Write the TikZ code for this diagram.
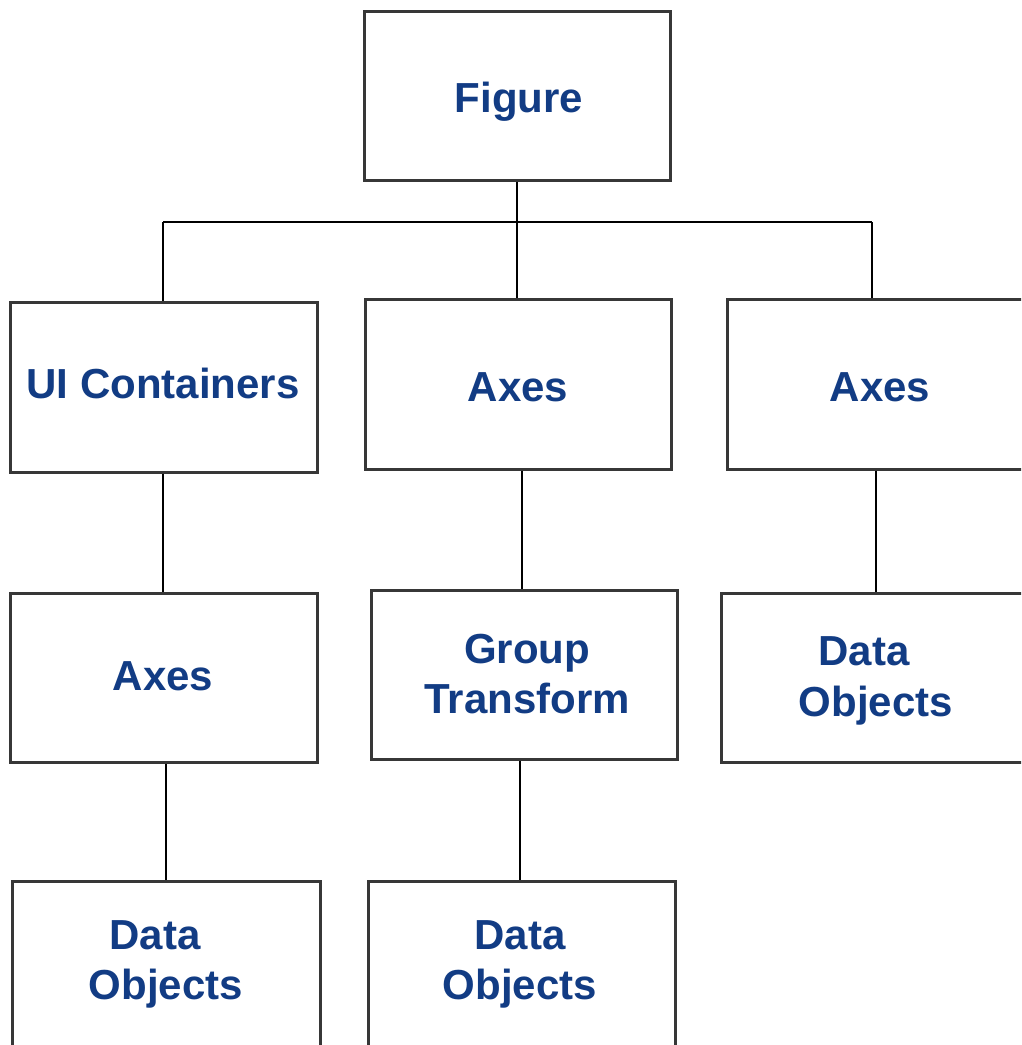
\documentclass[tikz,border=0pt]{standalone}
\usepackage{fontspec}
\setmainfont{Liberation Sans}
\definecolor{txtblue}{RGB}{18,60,132}
\definecolor{boxgray}{RGB}{55,55,55}
\begin{document}
\begin{tikzpicture}[x=1pt,y=-1pt,
  box/.style={draw=boxgray,line width=3pt,fill=white,rectangle,inner sep=0pt},
  lbl/.style={text=txtblue,font=\fontsize{42}{50}\selectfont\bfseries,anchor=base,inner sep=0pt},
  link/.style={draw=black,line width=2pt}]
\useasboundingbox (0,0) rectangle (1021,1045);
\begin{scope}
\clip (0,0) rectangle (1021,1045);
\coordinate (jl) at (163,222);
\coordinate (jm) at (517,222);
\coordinate (jr) at (872,222);
% boxes
\node[box,minimum width=306pt,minimum height=169pt] (fig) at (517,95.5) {};
\node[box,minimum width=307pt,minimum height=170pt] (ui) at (163.5,387) {};
\node[box,minimum width=306pt,minimum height=170pt] (axm) at (518,384) {};
\node[box,minimum width=306pt,minimum height=170pt] (axr) at (880,384) {};
\node[box,minimum width=307pt,minimum height=169pt] (axl) at (163.5,677.5) {};
\node[box,minimum width=306pt,minimum height=169pt] (grp) at (524,674.5) {};
\node[box,minimum width=310pt,minimum height=169pt] (dor) at (876,677.5) {};
\node[box,minimum width=308pt,minimum height=220pt] (dol) at (166,991) {};
\node[box,minimum width=307pt,minimum height=220pt] (dom) at (521.5,991) {};
% labels
\node[lbl] (figt) at (519,112) {Figure};
\node[lbl] (uit) at (163,398) {UI Containers};
\node[lbl] (axmt) at (518,401) {Axes};
\node[lbl] (axrt) at (880,401) {Axes};
\node[lbl] (axlt) at (163,690) {Axes};
\node[lbl] (grpt1) at (527,663) {Group};
\node[lbl] (grpt2) at (527,713) {Transform};
\node[lbl] (dort1) at (864,665) {Data};
\node[lbl] (dort2) at (876,716) {Objects};
\node[lbl] (dolt1) at (155,949) {Data};
\node[lbl] (dolt2) at (166,999) {Objects};
\node[lbl] (domt1) at (520,949) {Data};
\node[lbl] (domt2) at (520,999) {Objects};
% connectors
\draw[link] (fig.south) -- (jm);
\draw[link] (jl) -- (jr);
\draw[link] (jl) -- (ui.north -| jl);
\draw[link] (jm) -- (axm.north -| jm);
\draw[link] (jr) -- (axr.north -| jr);
\draw[link] (ui.south -| 163,0) -- (axl.north -| 163,0);
\draw[link] (axm.south -| 522,0) -- (grp.north -| 522,0);
\draw[link] (axr.south -| 876,0) -- (dor.north -| 876,0);
\draw[link] (axl.south -| 166,0) -- (dol.north -| 166,0);
\draw[link] (grp.south -| 520,0) -- (dom.north -| 520,0);
\end{scope}
\end{tikzpicture}
\end{document}
